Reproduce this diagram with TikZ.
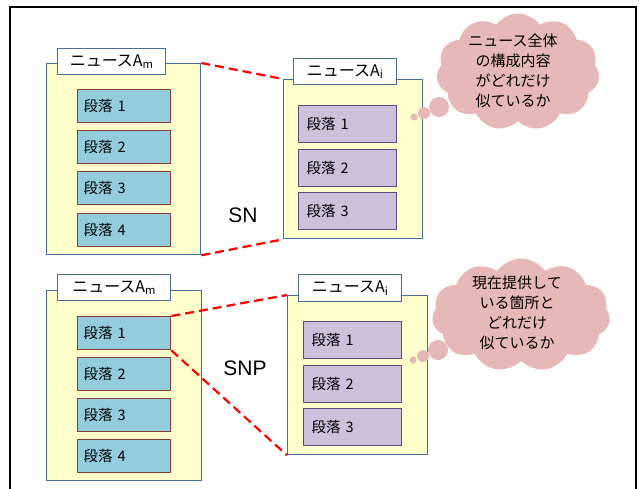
\documentclass[tikz,border=0pt]{standalone}
\usepackage{fontspec}
\setmainfont{Noto Sans CJK JP}
\newfontfamily\latinsans{Liberation Sans}
\usetikzlibrary{shapes.symbols}
\definecolor{frameblue}{HTML}{4A6C9B}
\definecolor{contfill}{HTML}{FFFFCC}
\definecolor{bluebox}{HTML}{93CDDD}
\definecolor{redborder}{HTML}{8E3B38}
\definecolor{lavbox}{HTML}{CCC0DA}
\definecolor{purpborder}{HTML}{5E4A7B}
\definecolor{cloudpink}{HTML}{E6B8B7}
\definecolor{dashred}{HTML}{FF0000}
\tikzset{
  container/.style={draw=frameblue, fill=contfill, line width=1.3pt, rectangle, anchor=north west, inner sep=0pt},
  tab/.style={draw=frameblue, fill=white, line width=1.3pt, rectangle, anchor=north west, inner sep=0pt, minimum height=26pt, font=\fontsize{16}{17}\selectfont},
  lbox/.style={draw=redborder, fill=bluebox, line width=1.4pt, rectangle, anchor=north west, inner xsep=6pt, inner ysep=0pt, text width=81pt, align=left, minimum height=33pt, font=\fontsize{14.5}{15}\selectfont},
  rbox/.style={draw=purpborder, fill=lavbox, line width=1.4pt, rectangle, anchor=north west, inner xsep=8pt, inner ysep=0pt, text width=82pt, align=left, minimum height=37pt, font=\fontsize{14.5}{15}\selectfont},
  thought/.style={cloud, cloud puffs=11, cloud puff arc=110, cloud ignores aspect, fill=cloudpink, draw=none, inner sep=0pt, align=center, font=\fontsize{15}{20}\selectfont},
  bubble/.style={circle, fill=cloudpink, draw=none, inner sep=0pt},
  link/.style={draw=dashred, line width=2.2pt, dash pattern=on 9pt off 5pt},
  simlabel/.style={font=\latinsans\fontsize{21}{22}\selectfont}
}
\begin{document}
\begin{tikzpicture}[x=1pt, y=-1pt]
\useasboundingbox (0,0) rectangle (639,488);
% frame
\draw[line width=1.3pt] (10,492) -- (10,7) -- (636,7) -- (636,492);

% top-left group
\node[container, minimum width=154pt, minimum height=191pt] (c1) at (46,63) {};
\node[tab, minimum width=108pt] (t1) at (57,48) {ニュースA\textsubscript{m}};
\node[lbox] (a1) at (77,89) {段落 1};
\node[lbox] (a2) at (77,130) {段落 2};
\node[lbox] (a3) at (77,171) {段落 3};
\node[lbox] (a4) at (77,213) {段落 4};

% top-right group
\node[container, minimum width=139pt, minimum height=159pt] (c2) at (283,79) {};
\node[tab, minimum width=103pt] (t2) at (293,58) {ニュースA\textsubscript{i}};
\node[rbox] (b1) at (298,105) {段落 1};
\node[rbox] (b2) at (298,149) {段落 2};
\node[rbox] (b3) at (298,192) {段落 3};

% bottom-left group
\node[container, minimum width=155pt, minimum height=190pt] (c3) at (46,290) {};
\node[tab, minimum width=113pt] (t3) at (57,274) {ニュースA\textsubscript{m}};
\node[lbox] (d1) at (77,316) {段落 1};
\node[lbox] (d2) at (77,357) {段落 2};
\node[lbox] (d3) at (77,398) {段落 3};
\node[lbox] (d4) at (77,439) {段落 4};

% bottom-right group
\node[container, minimum width=140pt, minimum height=159pt] (c4) at (287,295) {};
\node[tab, minimum width=103pt, minimum height=27pt] (t4) at (298,274) {ニュースA\textsubscript{i}};
\node[rbox] (e1) at (303,321) {段落 1};
\node[rbox] (e2) at (303,365) {段落 2};
\node[rbox] (e3) at (303,408) {段落 3};

% labels
\node[simlabel] (sn) at (243,215) {SN};
\node[simlabel] (snp) at (245,368) {SNP};

% thought clouds
\node[thought, minimum width=163pt, minimum height=117pt] (k1) at (518,72) {};
\node[font=\fontsize{15}{20}\selectfont, align=center] (k1t) at (513,71) {ニュース全体\\の構成内容\\がどれだけ\\似ているか};
\node[bubble, minimum size=20pt] (p1) at (439,107) {};
\node[bubble, minimum size=12pt] (p2) at (424,113) {};
\node[bubble, minimum size=7pt] (p3) at (414,117) {};

\node[thought, minimum width=178pt, minimum height=113pt] (k2) at (521,315) {};
\node[font=\fontsize{15}{20}\selectfont, align=center] (k2t) at (517,313) {現在提供して\\いる箇所と\\どれだけ\\似ているか};
\node[bubble, minimum size=20pt] (q1) at (438,350) {};
\node[bubble, minimum size=12pt] (q2) at (423,356) {};
\node[bubble, minimum size=7pt] (q3) at (413,360) {};

% dashed links
\draw[link] (c1.north east) -- (c2.north west);
\draw[link] (c1.south east) -- (c2.south west);
\draw[link] (d1.north east) -- (c4.north west);
\draw[link] (d1.south east) -- (c4.south west);
\end{tikzpicture}
\end{document}
